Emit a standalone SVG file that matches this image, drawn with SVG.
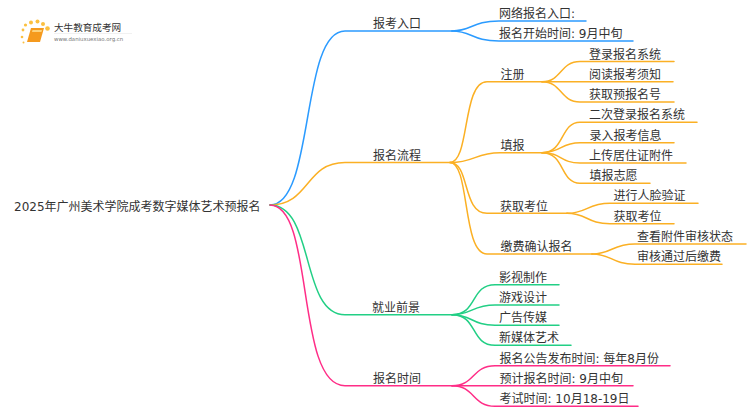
<svg xmlns="http://www.w3.org/2000/svg" width="750" height="410" viewBox="0 0 750 410">
<style>
text{font-family:"DejaVu Sans","Noto Sans CJK SC",sans-serif;font-size:12px;fill:#333}
.c path{fill:none;stroke-width:1.5;stroke-linecap:round}
.b path{stroke:#2b9bff}.o path{stroke:#fbb024}.g path{stroke:#22cf85}.p path{stroke:#ff2d87}
</style>
<rect width="750" height="410" fill="#fff"/>
<g id="logo">
<g fill="#fbc040"><circle cx="23" cy="30" r="1.4"/><circle cx="25.500" cy="25" r="1.6"/><circle cx="31" cy="22.500" r="2"/><circle cx="37.500" cy="21.500" r="2"/><circle cx="43" cy="24" r="2"/><circle cx="47.500" cy="28.500" r="2.300"/><circle cx="22" cy="37" r="1.300"/><circle cx="23.500" cy="42.500" r="1"/></g>
<path d="M31,28H44L40,42H27Z" fill="#f59a1e"/><path d="M32.500,30H42L41.500,32H32Z" fill="#fcd27c"/>
<text x="54" y="31" style="font-size:9.600px">大牛教育成考网</text>
<text x="54" y="41" style="font-size:5.400px;fill:#777">www.daniuxuexiao.org.cn</text>
<path d="M54,33.500H132" stroke="#eee" stroke-width="0.800"/>
</g>
<g id="connectors" class="c">
<g class="b"><path d="M270,205C315,205 300,31 345,31H452"/><path d="M452,31C472,31 472,21 499,21H586"/><path d="M452,31C472,31 472,41 499,41H633"/></g>
<g class="o"><path d="M270,205C310,205 305,162.500 345,162.500H450"/><path d="M450,162.500C470,162.500 462,81.700 487,81.700H542"/><path d="M450,162.500C475,162.500 475,152.700 500,152.700H542"/><path d="M450,162.500C470,162.500 462,213.300 487,213.300H567"/><path d="M450,162.500C470,162.500 462,254 487,254H592"/>
<path d="M542,81.700C562,81.700 560,61.500 580,61.500H674"/><path d="M542,81.700H673"/><path d="M542,81.700C562,81.700 560,102 580,102H674"/>
<path d="M542,152.700C565,152.700 560,122.300 580,122.300H697"/><path d="M542,152.700C562,152.700 560,142.700 580,142.700H674"/><path d="M542,152.700C562,152.700 560,163 580,163H686"/><path d="M542,152.700C565,152.700 560,183.300 580,183.300H650"/>
<path d="M567,213.300C587,213.300 587,203.300 610,203.300H698"/><path d="M567,213.300C587,213.300 587,223.700 610,223.700H674"/>
<path d="M592,254C612,254 612,244 635,244H746"/><path d="M592,254C612,254 612,264.300 635,264.300H722"/></g>
<g class="g"><path d="M270,205C315,205 300,314.700 345,314.700H452"/><path d="M452,314.700C478,314.700 470,284.700 495,284.700H559"/><path d="M452,314.700C472,314.700 472,305 495,305H559"/><path d="M452,314.700C472,314.700 472,325.300 495,325.300H559"/><path d="M452,314.700C478,314.700 470,345.300 495,345.300H571"/></g>
<g class="p"><path d="M270,205C315,205 295,385.700 345,385.700H452"/><path d="M452,385.700C475,385.700 472,365.700 495,365.700H670"/><path d="M452,385.700H633"/><path d="M452,385.700C475,385.700 472,406.300 495,406.300H638"/></g>
</g>
<g id="root"><text x="14" y="210.500">2025年广州美术学院成考数字媒体艺术预报名</text></g>
<g id="n1"><text x="373" y="27.500">报考入口</text></g>
<g id="n1a"><text x="499" y="17.500">网络报名入口:</text></g>
<g id="n1b"><text x="499" y="37.500">报名开始时间: 9月中旬</text></g>
<g id="n2"><text x="373" y="159.500">报名流程</text></g>
<g id="n2a"><text x="500.500" y="78.500">注册</text></g>
<g id="n2a1"><text x="589" y="58.500">登录报名系统</text></g>
<g id="n2a2"><text x="589" y="78.500">阅读报考须知</text></g>
<g id="n2a3"><text x="589" y="98.500">获取预报名号</text></g>
<g id="n2b"><text x="500.500" y="149.500">填报</text></g>
<g id="n2b1"><text x="589" y="119">二次登录报名系统</text></g>
<g id="n2b2"><text x="589.500" y="139.500">录入报考信息</text></g>
<g id="n2b3"><text x="589" y="160">上传居住证附件</text></g>
<g id="n2b4"><text x="589.500" y="180">填报志愿</text></g>
<g id="n2c"><text x="500" y="210.500">获取考位</text></g>
<g id="n2c1"><text x="613.500" y="200">进行人脸验证</text></g>
<g id="n2c2"><text x="613.500" y="220.500">获取考位</text></g>
<g id="n2d"><text x="500.500" y="251">缴费确认报名</text></g>
<g id="n2d1"><text x="637" y="240.500">查看附件审核状态</text></g>
<g id="n2d2"><text x="637" y="261">审核通过后缴费</text></g>
<g id="n3"><text x="372" y="311.500">就业前景</text></g>
<g id="n3a"><text x="499" y="281.500">影视制作</text></g>
<g id="n3b"><text x="499" y="301.500">游戏设计</text></g>
<g id="n3c"><text x="499" y="322">广告传媒</text></g>
<g id="n3d"><text x="499" y="342">新媒体艺术</text></g>
<g id="n4"><text x="373" y="382.500">报名时间</text></g>
<g id="n4a"><text x="499.500" y="362.500">报名公告发布时间: 每年8月份</text></g>
<g id="n4b"><text x="499.500" y="382.500">预计报名时间: 9月中旬</text></g>
<g id="n4c"><text x="499.500" y="403">考试时间: 10月18-19日</text></g>
</svg>
